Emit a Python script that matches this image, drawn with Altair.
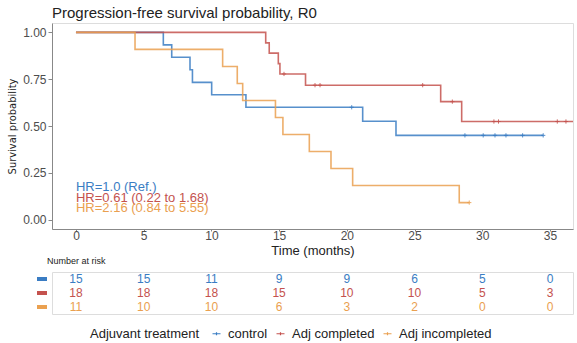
import altair as alt
import pandas as pd

groups = ["control", "Adj completed", "Adj incompleted"]
colors = ["#3A7DC3", "#C4524E", "#EAA050"]

# Kaplan-Meier step points (time in months, survival probability)
ctrl_t = [0, 6.45, 7.07, 8.42, 8.60, 10.02, 12.55, 21.17, 23.63, 34.5]
ctrl_s = [1.0, 0.933, 0.867, 0.800, 0.733, 0.667, 0.600, 0.525, 0.450, 0.450]
comp_t = [0, 14.01, 14.27, 14.94, 15.06, 16.95, 26.93, 28.48, 36.7]
comp_s = [1.0, 0.944, 0.889, 0.833, 0.778, 0.718, 0.630, 0.524, 0.524]
inc_t = [0, 4.36, 10.83, 11.91, 12.31, 14.73, 15.28, 17.23, 18.83, 20.43, 28.30, 29.04]
inc_s = [1.0, 0.909, 0.818, 0.727, 0.636, 0.545, 0.455, 0.364, 0.273, 0.182, 0.091, 0.091]

# censoring marks
ctrl_ct = [20.36, 28.72, 30.07, 30.94, 31.75, 32.98, 34.5]
ctrl_cs = [0.600, 0.450, 0.450, 0.450, 0.450, 0.450, 0.450]
comp_ct = [15.36, 17.65, 18.02, 25.60, 27.79, 30.86, 31.20, 35.54, 36.18]
comp_cs = [0.778, 0.718, 0.718, 0.718, 0.630, 0.524, 0.524, 0.524, 0.524]
inc_ct = [29.04]
inc_cs = [0.091]

# number at risk table
risk_times = [0, 5, 10, 15, 20, 25, 30, 35]
risk_ctrl = [15, 15, 11, 9, 9, 6, 5, 0]
risk_comp = [18, 18, 18, 15, 10, 10, 5, 3]
risk_inc = [11, 10, 10, 6, 3, 2, 0, 0]

hr_labels = ["HR=1.0 (Ref.)", "HR=0.61 (0.22 to 1.68)", "HR=2.16 (0.84 to 5.55)"]

steps = pd.DataFrame(
    [(t, s, groups[0]) for t, s in zip(ctrl_t, ctrl_s)]
    + [(t, s, groups[1]) for t, s in zip(comp_t, comp_s)]
    + [(t, s, groups[2]) for t, s in zip(inc_t, inc_s)],
    columns=["t", "s", "group"],
)
cens = pd.DataFrame(
    [(t, s, groups[0]) for t, s in zip(ctrl_ct, ctrl_cs)]
    + [(t, s, groups[1]) for t, s in zip(comp_ct, comp_cs)]
    + [(t, s, groups[2]) for t, s in zip(inc_ct, inc_cs)],
    columns=["t", "s", "group"],
)
risk = pd.DataFrame(
    [(t, n, groups[0]) for t, n in zip(risk_times, risk_ctrl)]
    + [(t, n, groups[1]) for t, n in zip(risk_times, risk_comp)]
    + [(t, n, groups[2]) for t, n in zip(risk_times, risk_inc)],
    columns=["t", "n", "group"],
)

FONT = "Liberation Sans"
NARROW = "DejaVu Sans Condensed, Roboto Condensed, Liberation Sans"
xscale = alt.Scale(domain=[-1.77, 36.7], nice=False, zero=False)
cscale = alt.Scale(domain=groups, range=colors)

x_enc = alt.X(
    "t:Q",
    scale=xscale,
    axis=alt.Axis(
        values=risk_times, title="Time (months)", grid=False, tickSize=2,
        labelPadding=-1, labelFontSize=12, labelColor="#4D4D4D", titleFontSize=13,
        titleFontWeight="normal", titleColor="#222", titlePadding=3,
        domainColor="#888", tickColor="#888", labelFont=FONT, titleFont=FONT,
    ),
)
y_enc = alt.Y(
    "s:Q",
    scale=alt.Scale(domain=[-0.05, 1.05], nice=False, zero=False),
    axis=alt.Axis(
        values=[0, 0.25, 0.5, 0.75, 1.0], format=".2f", title="Survival probability",
        grid=False, tickSize=4, labelPadding=2, labelFontSize=12, labelColor="#4D4D4D",
        titleFont=NARROW, titleFontSize=11, titleFontWeight="normal",
        titleColor="#222", titlePadding=5, domainColor="#888", tickColor="#888",
        labelFont=FONT,
    ),
)

lines = alt.Chart(steps).mark_line(
    interpolate="step-after", strokeWidth=1.6, opacity=0.85, clip=True
).encode(
    x=x_enc, y=y_enc,
    color=alt.Color("group:N", scale=cscale, legend=None),
    detail="group:N",
)
ticks = alt.Chart(cens).mark_point(
    shape="M0,-1V1M-1,0H1", size=18, strokeWidth=1, filled=False, opacity=0.85
).encode(
    x="t:Q", y="s:Q",
    color=alt.Color("group:N", scale=cscale, legend=None),
)

hr_y = [0.172, 0.116, 0.062]
hr_layers = [
    alt.Chart().mark_text(align="left", baseline="middle", fontSize=13, font=FONT).encode(
        x=alt.datum(0), y=alt.datum(yv), text=alt.value(lab), color=alt.value(col)
    )
    for lab, yv, col in zip(hr_labels, hr_y, colors)
]

top = alt.layer(lines, ticks, *hr_layers).properties(
    width=521, height=206,
    title=alt.TitleParams(
        "Progression-free survival probability, R0", anchor="start", frame="group",
        fontSize=15, fontWeight="normal", font=FONT, color="#222", offset=2,
    ),
)

ry = alt.Y("group:N", sort=groups, scale=alt.Scale(type="point", padding=0.5), axis=None)
dashes = alt.Chart(risk).mark_rule(strokeWidth=3).encode(
    x=alt.value(-15), x2=alt.value(-5), y=ry,
    color=alt.Color(
        "group:N", scale=cscale,
        legend=alt.Legend(
            orient="none", legendX=38, legendY=55, direction="horizontal",
            title="Adjuvant treatment", titleOrient="left", titleFontSize=13,
            titleFontWeight="normal", titleFont=FONT, titleColor="#222",
            titlePadding=10, labelFontSize=13, labelFont=FONT, labelColor="#222",
            symbolType="M-1,0H1M0,-0.4V0.4", symbolSize=64, symbolStrokeWidth=1.2,
            labelOffset=5, columnPadding=6,
        ),
    ),
)
nums = alt.Chart(risk).mark_text(fontSize=12, font=FONT).encode(
    x=alt.X("t:Q", scale=xscale, axis=None), y=ry, text="n:Q",
    color=alt.Color("group:N", scale=cscale, legend=None),
)
bottom = alt.layer(dashes, nums).properties(
    width=521, height=42,
    title=alt.TitleParams(
        "Number at risk", anchor="start", frame="group", fontSize=9,
        fontWeight="normal", font=FONT, color="#222", dx=-5, offset=6,
    ),
)

chart = alt.vconcat(top, bottom, spacing=-2).resolve_scale(
    color="independent", x="independent"
).properties(
    padding={"left": 6, "top": 5, "right": 0, "bottom": 0}
).configure_view(stroke=None).configure(background="white")

chart.save("out.html", embed_options={"renderer": "svg", "actions": False})
